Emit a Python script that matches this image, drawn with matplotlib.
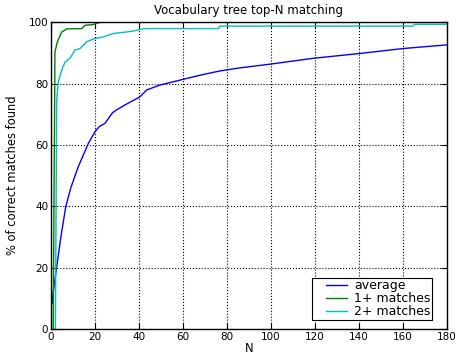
import numpy as np
import matplotlib
matplotlib.use("Agg")
import matplotlib.pyplot as plt

# ---------------- data ----------------
avg_n = [0.5, 1, 2.6, 4.5, 6.7, 9, 12.4, 17, 20, 22, 24.5, 26, 28, 30, 33.6,
         40.5, 43.5, 49.5, 58.6, 67.7, 76.8, 85.9, 99.5, 119, 140.5, 160, 180]
avg_v = [8.4, 12, 20.3, 30, 39.8, 46, 52.9, 60.5, 64.3, 66, 67, 68.5, 70.5, 71.5, 73,
         75.7, 77.9, 79.5, 81.1, 82.7, 84.1, 85.1, 86.3, 88.2, 89.8, 91.4, 92.6]

one_n = [1.0, 1.8, 2.9, 4.8, 7.1, 14, 15.5, 19.2, 21.5, 23, 180]
one_v = [0, 90.3, 93.6, 96.7, 97.8, 97.9, 99, 99.2, 99.8, 100, 100]

two_n = [2.0, 2.6, 3.3, 4.9, 6.4, 8.6, 10.9, 13.2, 16.2, 19.2, 23.8, 28.3,
         34.4, 37.4, 40.5, 42.7, 76, 76.8, 164.4, 165.5, 180]
two_v = [0, 74.6, 80.5, 84.4, 87, 88.2, 90.9, 91.4, 93.6, 94.5, 95.2, 96.3,
         96.8, 97.1, 97.6, 97.9, 97.9, 98.7, 98.7, 99.3, 99.3]

# ---------------- plot ----------------
W, H = 461, 356
fig = plt.figure(figsize=(W / 100, H / 100), dpi=100)
ax = fig.add_axes([0.1106, 0.0758, 0.859, 0.862])

ax.plot(avg_n, avg_v, color='#0000ff', lw=1, label='average')
ax.plot(one_n, one_v, color='#008000', lw=1, label='1+ matches')
ax.plot(two_n, two_v, color='#00bfbf', lw=1, label='2+ matches')

ax.set_xlim(0, 180)
ax.set_ylim(0, 100)
ax.set_xticks(np.arange(0, 181, 20))
ax.set_yticks(np.arange(0, 101, 20))
ax.tick_params(direction='in', top=True, right=True, labelsize=7.5, length=4, pad=2)
ax.grid(True, color='k', linestyle=':', lw=0.8)
for s in ax.spines.values():
    s.set_linewidth(1)

ax.set_title('Vocabulary tree top-N matching', fontsize=8.5, pad=6)
ax.set_xlabel('N', fontsize=8.3, labelpad=0)
ax.set_ylabel('% of correct matches found', fontsize=8.3, labelpad=7)

leg = ax.legend(loc='upper left', bbox_to_anchor=(312 / W, 1 - 278 / H),
                bbox_transform=fig.transFigure, borderaxespad=0,
                fontsize=9, fancybox=False, framealpha=1, edgecolor='k',
                handlelength=2.72, handletextpad=0.56,
                labelspacing=0.0, borderpad=0.1)
leg.get_frame().set_linewidth(0.8)
# short handle lines with white space in front, like the reference
for l in leg.get_lines():
    x = l.get_xdata()
    x0, x1 = x[0], x[-1]
    l.set_xdata(np.linspace(x0 + 0.38 * (x1 - x0), x1, len(x)))

fig.savefig('out.png', dpi=100, facecolor='white')
